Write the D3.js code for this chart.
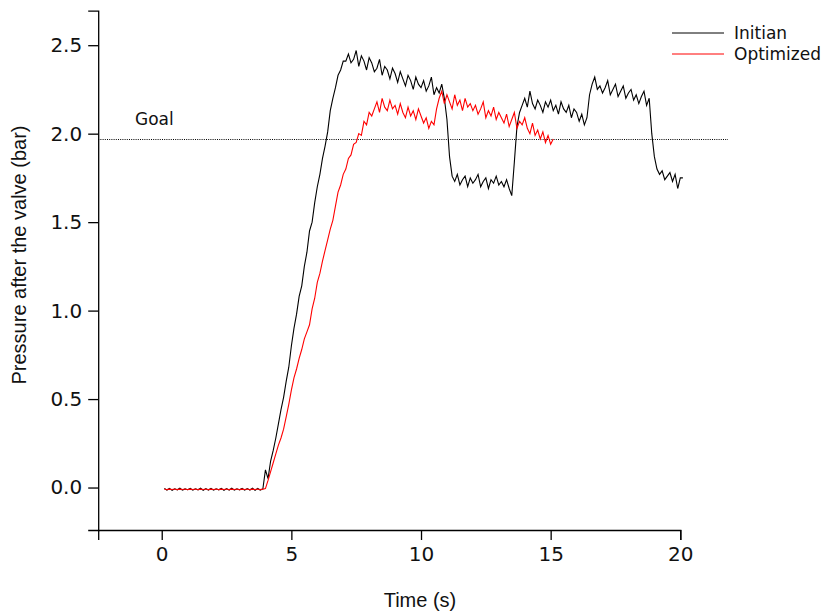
<!DOCTYPE html>
<html>
<head>
<meta charset="utf-8">
<script src="https://cdn.jsdelivr.net/npm/d3@7/dist/d3.min.js"></script>
<style>
  html, body { margin: 0; padding: 0; background: #fff; }
  svg { display: block; }
</style>
</head>
<body>
<svg id="chart" width="826" height="613"></svg>
<script>
// Valve outlet pressure (bar) sampled every 0.1 s, starting at t = 0.1 s.
const sampleStep = 0.1;
const sampleStart = 0.1;

const initianPressure = [
  -0.006, -0.014, -0.005, -0.016, -0.007, -0.013, -0.004, -0.015, -0.008, -0.012,
  -0.005, -0.015, -0.007, -0.013, -0.004, -0.016, -0.006, -0.014, -0.005, -0.015,
  -0.007, -0.013, -0.005, -0.016, -0.006, -0.014, -0.004, -0.015, -0.007, -0.013,
  -0.005, -0.015, -0.006, -0.014, -0.004, -0.016, -0.005, -0.014, -0.008, 0.10,
  0.05, 0.15, 0.21, 0.28, 0.36, 0.44, 0.51, 0.60, 0.68, 0.80,
  0.90, 0.98, 1.08, 1.14, 1.25, 1.33, 1.45, 1.50, 1.61, 1.70,
  1.77, 1.86, 1.93, 2.01, 2.13, 2.20, 2.26, 2.33, 2.36, 2.41,
  2.41, 2.45, 2.40, 2.42, 2.47, 2.38, 2.44, 2.41, 2.36, 2.43,
  2.40, 2.35, 2.37, 2.42, 2.33, 2.38, 2.36, 2.31, 2.37, 2.34,
  2.29, 2.35, 2.31, 2.27, 2.33, 2.30, 2.25, 2.32, 2.28, 2.26,
  2.30, 2.24, 2.27, 2.32, 2.22, 2.26, 2.23, 2.28, 2.20, 2.08,
  1.87, 1.76, 1.73, 1.77, 1.71, 1.74, 1.76, 1.70, 1.75, 1.72,
  1.74, 1.77, 1.70, 1.73, 1.75, 1.69, 1.74, 1.72, 1.76, 1.71,
  1.73, 1.70, 1.74, 1.69, 1.65, 1.84, 2.04, 2.12, 2.16, 2.20,
  2.15, 2.24, 2.17, 2.14, 2.19, 2.16, 2.12, 2.18, 2.15, 2.19,
  2.13, 2.16, 2.11, 2.18, 2.14, 2.12, 2.16, 2.09, 2.14, 2.12,
  2.07, 2.11, 2.05, 2.09, 2.22, 2.28, 2.32, 2.25, 2.27, 2.23,
  2.26, 2.30, 2.22, 2.25, 2.28, 2.21, 2.24, 2.27, 2.20, 2.23,
  2.25, 2.19, 2.22, 2.17, 2.21, 2.24, 2.16, 2.20, 2.00, 1.87,
  1.80, 1.77, 1.79, 1.74, 1.76, 1.78, 1.73, 1.77, 1.69, 1.75,
  1.75
];

const optimizedPressure = [
  -0.008, -0.012, -0.009, -0.011, -0.008, -0.012, -0.009, -0.011, -0.008, -0.012,
  -0.009, -0.011, -0.008, -0.012, -0.009, -0.011, -0.008, -0.012, -0.009, -0.011,
  -0.008, -0.012, -0.009, -0.011, -0.008, -0.012, -0.009, -0.011, -0.008, -0.012,
  -0.009, -0.011, -0.008, -0.012, -0.009, -0.011, -0.008, -0.012, -0.009, -0.006,
  0.04, 0.09, 0.14, 0.19, 0.24, 0.28, 0.33, 0.40, 0.47, 0.55,
  0.62, 0.67, 0.73, 0.78, 0.84, 0.88, 0.92, 1.01, 1.07, 1.16,
  1.21, 1.28, 1.34, 1.40, 1.46, 1.51, 1.59, 1.67, 1.71, 1.77,
  1.80, 1.86, 1.88, 1.94, 1.95, 2.00, 1.99, 2.07, 2.05, 2.12,
  2.10, 2.14, 2.18, 2.12, 2.20, 2.15, 2.13, 2.19, 2.14, 2.16,
  2.11, 2.17, 2.12, 2.09, 2.15, 2.10, 2.13, 2.08, 2.14, 2.10,
  2.06, 2.09, 2.03, 2.07, 2.05, 2.14, 2.20, 2.24, 2.17, 2.22,
  2.18, 2.14, 2.22, 2.16, 2.19, 2.13, 2.20, 2.15, 2.17, 2.13,
  2.16, 2.11, 2.14, 2.18, 2.09, 2.13, 2.10, 2.15, 2.08, 2.12,
  2.09, 2.06, 2.11, 2.04, 2.08, 2.12, 2.03, 2.07, 2.05, 2.09,
  2.03, 2.00, 2.06, 1.99, 2.02, 1.97, 2.01, 1.95, 1.99, 1.94,
  1.97
];

const goalPressure = 1.967;

const seriesNames = ["Initian", "Optimized"];
const seriesColors = ["#000000", "#ff0000"];

const xTicks = [0, 5, 10, 15, 20];
const yTicks = [0, 0.5, 1.0, 1.5, 2.0, 2.5];

const xDomain = [-2.45, 20];
const yDomain = [-0.24, 2.695];

// ---- layout ----
const svg = d3.select("#chart");
const plot = { left: 98.2, right: 680.3, top: 10.7, bottom: 530 };

const x = d3.scaleLinear().domain(xDomain).range([plot.left, plot.right]);
const y = d3.scaleLinear().domain(yDomain).range([plot.bottom, plot.top]);

const tickFont = "'DejaVu Sans', sans-serif";
const titleFont = "'Liberation Sans', Arial, sans-serif";

// Goal reference line (dotted, runs past the plotted time range)
svg.append("line")
  .attr("x1", plot.left).attr("x2", 728)
  .attr("y1", y(goalPressure)).attr("y2", y(goalPressure))
  .attr("stroke", "#000").attr("stroke-width", 1)
  .attr("stroke-dasharray", "1,1.2");

svg.append("text")
  .attr("x", 135).attr("y", 125)
  .attr("font-family", tickFont).attr("font-size", 17)
  .attr("fill", "#111")
  .text("Goal");

// Pressure traces
const toPoints = arr => arr.map((v, i) => [sampleStart + i * sampleStep, v]);
const line = d3.line().x(d => x(d[0])).y(d => y(d[1]));

[initianPressure, optimizedPressure].forEach((arr, k) => {
  svg.append("path")
    .datum(toPoints(arr))
    .attr("fill", "none")
    .attr("stroke", seriesColors[k])
    .attr("stroke-width", 1.1)
    .attr("stroke-linejoin", "miter")
    .attr("d", line);
});

// Axes
const xAxis = d3.axisBottom(x).tickValues(xTicks).tickFormat(d3.format("d"))
  .tickSizeInner(10).tickSizeOuter(10).tickPadding(7);
const yAxis = d3.axisLeft(y).tickValues(yTicks).tickFormat(d3.format(".1f"))
  .tickSizeInner(10).tickSizeOuter(10).tickPadding(6);

const gx = svg.append("g").attr("transform", `translate(0,${plot.bottom})`).call(xAxis);
const gy = svg.append("g").attr("transform", `translate(${plot.left},0)`).call(yAxis);

[gx, gy].forEach(g => {
  g.selectAll("path.domain").attr("stroke", "#000").attr("stroke-width", 1.3);
  g.selectAll(".tick line").attr("stroke", "#000").attr("stroke-width", 1.3);
  g.selectAll(".tick text")
    .attr("font-family", tickFont).attr("font-size", 20).attr("fill", "#111");
});

// Axis titles
svg.append("text")
  .attr("x", 420).attr("y", 607)
  .attr("text-anchor", "middle")
  .attr("font-family", titleFont).attr("font-size", 20).attr("fill", "#111")
  .text("Time (s)");

svg.append("text")
  .attr("transform", "translate(26,255) rotate(-90)")
  .attr("text-anchor", "middle")
  .attr("font-family", titleFont).attr("font-size", 20).attr("fill", "#111")
  .text("Pressure after the valve (bar)");

// Legend
const legend = svg.append("g");
seriesNames.forEach((name, k) => {
  const ly = 33 + k * 21;
  legend.append("line")
    .attr("x1", 672).attr("x2", 724).attr("y1", ly).attr("y2", ly)
    .attr("stroke", seriesColors[k]).attr("stroke-width", 1);
  legend.append("text")
    .attr("x", 734).attr("y", ly).attr("dy", "0.35em")
    .attr("font-family", tickFont).attr("font-size", 17).attr("fill", "#111")
    .text(name);
});
</script>
</body>
</html>
